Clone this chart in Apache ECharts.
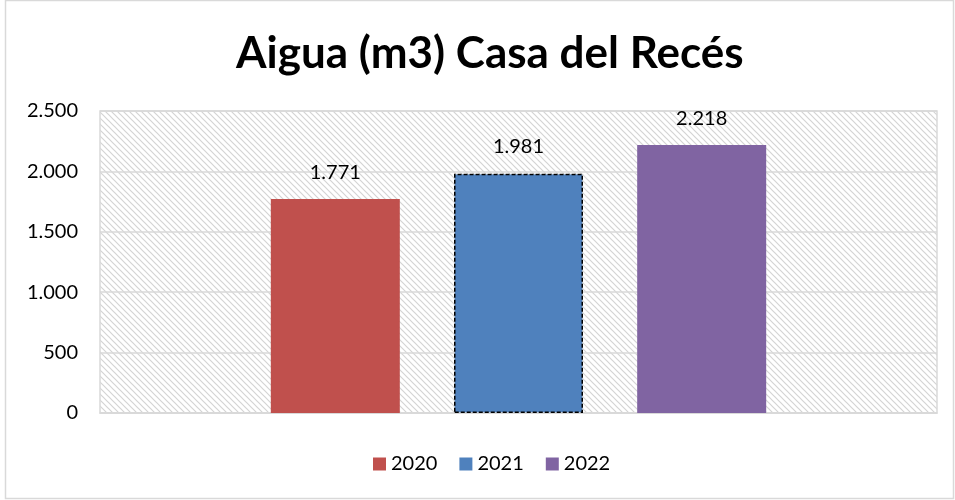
<!DOCTYPE html>
<html><head><meta charset="utf-8">
<script src="https://cdn.jsdelivr.net/npm/echarts@6/dist/echarts.min.js"></script>
<style>html,body{margin:0;padding:0;background:#fff}#c{width:955px;height:500px}</style>
</head><body><div id="c"></div>
<script>
const categories = ['Aigua'];
const seriesNames = ['2020', '2021', '2022'];
const values2020 = [1771];
const values2021 = [1981];
const values2022 = [2218];
const yTicks = [0, 500, 1000, 1500, 2000, 2500];

function fmt(v){ return String(Math.round(v)).replace(/\B(?=(\d{3})+(?!\d))/g, '.'); }

const pc = document.createElement('canvas');
pc.width = 6; pc.height = 6;
const ctx = pc.getContext('2d');
ctx.fillStyle = '#ffffff'; ctx.fillRect(0,0,6,6);
ctx.strokeStyle = '#d4d4d4'; ctx.lineWidth = 1.2;
ctx.beginPath();
ctx.moveTo(-1,-1); ctx.lineTo(7,7);
ctx.moveTo(-1,5); ctx.lineTo(1,7);
ctx.moveTo(5,-1); ctx.lineTo(7,1);
ctx.stroke();

const font = 'Lato, "Open Sans", sans-serif';
const chart = echarts.init(document.getElementById('c'));
const labelCfg = {show:true, position:'top', distance:17, fontSize:20, color:'#000', fontFamily:font, formatter: p => fmt(p.value)};
chart.setOption({
  animation:false,
  title:{text:'Aigua (m3) Casa del Recés', left:231, top:27, textStyle:{fontSize:44, fontWeight:'bold', color:'#000', fontFamily:font}},
  graphic:[{type:'rect', shape:{x:5.5,y:0.5,width:948,height:498}, style:{fill:'none', stroke:'#d9d9d9', lineWidth:1.5}, silent:true}],
  grid:{left:100, right:18, top:111, bottom:87, show:true, backgroundColor:{image:pc, repeat:'repeat'}, borderColor:'#d9d9d9', borderWidth:1.5},
  legend:{bottom:21, left:368, itemWidth:13, itemHeight:13, itemGap:22, icon:'rect', itemStyle:{borderWidth:0}, textStyle:{fontSize:20, color:'#000', fontFamily:font}, data:seriesNames},
  xAxis:{type:'category', data:categories, axisLine:{show:true, lineStyle:{color:'#d9d9d9', width:1.5}}, axisTick:{show:false}, axisLabel:{show:false}},
  yAxis:{type:'value', min:yTicks[0], max:yTicks[yTicks.length-1], interval:500, axisLine:{show:false}, axisTick:{show:false},
    splitLine:{lineStyle:{color:'#d9d9d9', width:1.5}},
    axisLabel:{margin:22, fontSize:20, color:'#000', fontFamily:font, formatter:v=>fmt(v)}},
  series:[
    {name:seriesNames[0], type:'bar', data:values2020, barWidth:129, barGap:'42%', itemStyle:{color:'#C0504D'}, label:labelCfg},
    {name:seriesNames[1], type:'bar', data:values2021, barWidth:129, barGap:'42%', itemStyle:{color:'#4F81BD', borderColor:'#000', borderWidth:1.5, borderType:[4,2]}, label:labelCfg},
    {name:seriesNames[2], type:'bar', data:values2022, barWidth:129, barGap:'42%', itemStyle:{color:'#8064A2'}, label:labelCfg}
  ]
});
</script></body></html>
